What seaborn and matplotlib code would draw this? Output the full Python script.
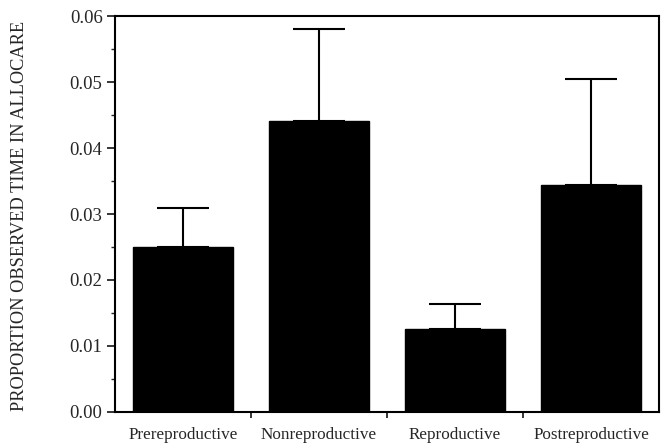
import matplotlib
matplotlib.use("Agg")
import matplotlib.pyplot as plt
import seaborn as sns
import numpy as np
import pandas as pd
from matplotlib.ticker import MultipleLocator, FixedLocator

categories = ["Prereproductive", "Nonreproductive", "Reproductive", "Postreproductive"]
means = [0.0250, 0.0441, 0.0125, 0.0344]
upper_errors = [0.0059, 0.0139, 0.0038, 0.0161]
y_ticks = [0.00, 0.01, 0.02, 0.03, 0.04, 0.05, 0.06]
y_label = "PROPORTION OBSERVED TIME IN ALLOCARE"

sns.set_theme(style="ticks")
plt.rcParams['font.family'] = ['Liberation Serif', 'DejaVu Serif']

df = pd.DataFrame({"stage": categories, "prop": means})

fig = plt.figure(figsize=(6.63, 4.45), dpi=100)
ax = fig.add_axes([0.1735, 0.0742, 0.8205, 0.8898])

sns.barplot(data=df, x="stage", y="prop", color="black", width=0.735,
            errorbar=None, ax=ax, saturation=1)
for p in ax.patches:
    p.set_edgecolor("black")
    p.set_facecolor("black")

xpos = np.arange(len(categories))
ax.errorbar(xpos, means, yerr=[np.zeros(len(means)), upper_errors], fmt="none",
            ecolor="black", elinewidth=1.5, capsize=18.5, capthick=1.5)

ax.set_xlim(-0.5, len(categories) - 0.5)
ax.set_ylim(0, 0.06)
ax.set_yticks(y_ticks)
ax.set_yticklabels([f"{t:.2f}" for t in y_ticks])
ax.yaxis.set_minor_locator(MultipleLocator(0.005))

# x ticks at category boundaries, labels centered under bars
ax.set_xticks(xpos)
ax.set_xticklabels(categories)
ax.tick_params(axis="x", which="major", length=0, pad=11, labelsize=12.3)
ax.xaxis.set_minor_locator(FixedLocator([0.5, 1.5, 2.5]))
ax.tick_params(axis="x", which="minor", length=4, width=1.3, direction="out", bottom=True)

ax.tick_params(axis="y", which="major", length=6, width=1.3, direction="out", labelsize=13.5, pad=3)
ax.tick_params(axis="y", which="minor", length=3, width=1.0, direction="out", left=True)

ax.set_xlabel("")
ax.set_ylabel(y_label, fontsize=13.2)
ax.yaxis.set_label_coords(-0.16, 0.495)

for s in ax.spines.values():
    s.set_visible(True)
    s.set_linewidth(1.5)
    s.set_color("black")

fig.savefig("out.png", dpi=100)
